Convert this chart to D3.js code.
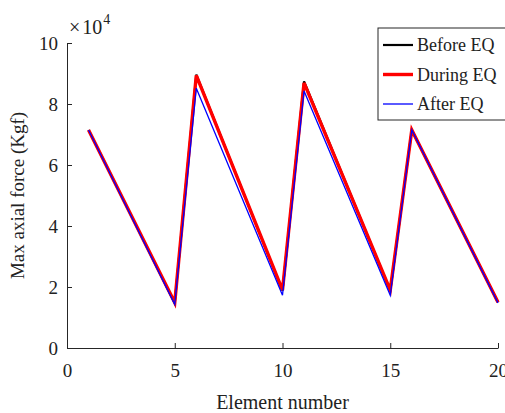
<!DOCTYPE html>
<html>
<head>
<meta charset="utf-8">
<script src="https://cdn.jsdelivr.net/npm/d3@7/dist/d3.min.js"></script>
<style>
  html, body { margin: 0; padding: 0; background: #fff; overflow: hidden; }
  text { font-family: "Liberation Serif", "DejaVu Serif", serif; fill: #222; }
</style>
</head>
<body>
<svg id="chart" width="505" height="413"></svg>
<script>
// Element numbers at the corners of each member group
const elements = [1, 5, 6, 10, 11, 15, 16, 20];
// Maximum axial force (Kgf) per element
const beforeEQ = [71500, 14800, 89600, 18800, 87400, 18800, 71500, 15000];
const duringEQ = [71500, 14900, 89400, 19000, 86900, 19000, 71500, 15000];
const afterEQ  = [71500, 14300, 85200, 17300, 84300, 17300, 71500, 14800];

const xTicks = [0, 5, 10, 15, 20];
const yTicks = [0, 20000, 40000, 60000, 80000, 100000];

const seriesNames = ["Before EQ", "During EQ", "After EQ"];
const seriesColors = ["#000000", "#ff0000", "#0000ff"];
const seriesWidths = [2.2, 3.4, 1.3];

const svg = d3.select("#chart");
const margin = { left: 67, right: 7, top: 43, bottom: 65 };
const W = 505, H = 413;

const x = d3.scaleLinear().domain([0, 20]).range([margin.left, W - margin.right]);
const y = d3.scaleLinear().domain([0, 100000]).range([H - margin.bottom, margin.top]);

// Axes with inward ticks
const xAxis = d3.axisBottom(x).tickValues(xTicks).tickSize(-5).tickPadding(16).tickSizeOuter(0);
const yAxis = d3.axisLeft(y).tickValues(yTicks).tickSize(-5).tickPadding(9).tickSizeOuter(0)
  .tickFormat(d => d / 10000);

const gx = svg.append("g").attr("transform", `translate(0,${y(0)})`).call(xAxis);
const gy = svg.append("g").attr("transform", `translate(${x(0)},0)`).call(yAxis);
[gx, gy].forEach(g => {
  g.select(".domain").attr("stroke", "#262626").attr("stroke-width", 1);
  g.selectAll(".tick line").attr("stroke", "#262626");
  g.selectAll(".tick text").attr("font-size", 19).attr("fill", "#222")
    .attr("font-family", "Liberation Serif, serif");
});

// Exponent label
const expo = svg.append("text").attr("x", 69).attr("y", 34).attr("font-size", 20);
expo.append("tspan").text("×");
expo.append("tspan").attr("dx", 2).text("10");
expo.append("tspan").attr("font-size", 14).attr("dy", -10).attr("dx", 1).text("4");

// Axis titles
svg.append("text").attr("x", x(10)).attr("y", 409).attr("text-anchor", "middle")
  .attr("font-size", 20).text("Element number");
svg.append("text").attr("transform", `translate(24,${y(50000)}) rotate(-90)`)
  .attr("text-anchor", "middle").attr("font-size", 19).text("Max axial force (Kgf)");

// Series lines
const line = d3.line().x((d, i) => x(elements[i])).y(d => y(d));
[beforeEQ, duringEQ, afterEQ].forEach((vals, k) => {
  svg.append("path").datum(vals)
    .attr("d", line)
    .attr("fill", "none")
    .attr("stroke", seriesColors[k])
    .attr("stroke-width", seriesWidths[k])
    .attr("stroke-linejoin", "miter");
});

// Legend
const lg = svg.append("g").attr("transform", "translate(378,28)");
lg.append("rect").attr("width", 140).attr("height", 92)
  .attr("fill", "#fff").attr("stroke", "#262626").attr("stroke-width", 1);
seriesNames.forEach((name, k) => {
  const yy = 17 + k * 29.5;
  lg.append("line").attr("x1", 5).attr("x2", 35).attr("y1", yy).attr("y2", yy)
    .attr("stroke", seriesColors[k]).attr("stroke-width", seriesWidths[k]);
  lg.append("text").attr("x", 39).attr("y", yy + 6).attr("font-size", 18).text(name);
});
</script>
</body>
</html>
